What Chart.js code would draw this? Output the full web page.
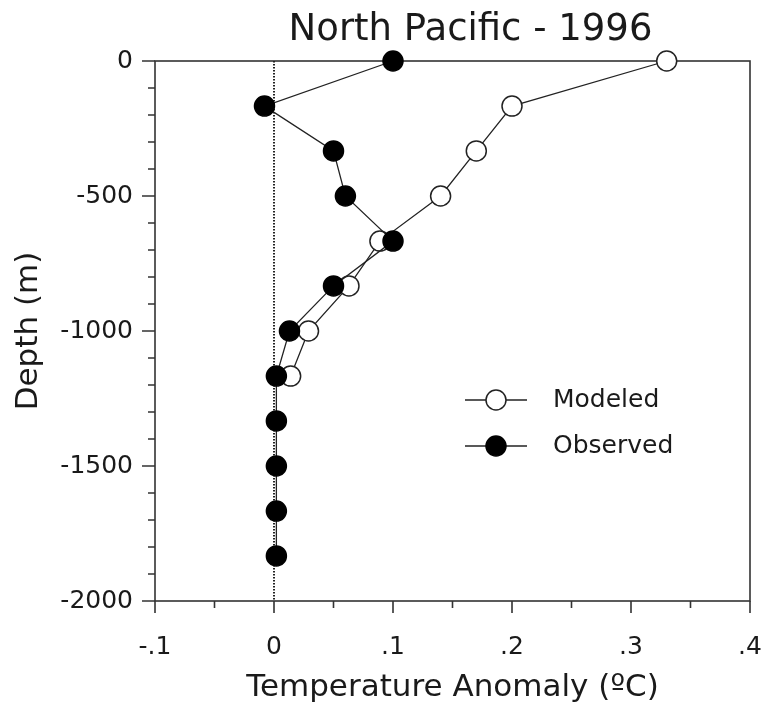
<!DOCTYPE html>
<html>
<head>
<meta charset="utf-8">
<script src="https://cdn.jsdelivr.net/npm/chart.js@4.4.1/dist/chart.umd.min.js"></script>
<style>
  html, body { margin: 0; padding: 0; background: #fff; }
  #wrap { width: 763px; height: 713px; position: relative; }
</style>
</head>
<body>
<div id="wrap"><canvas id="myChart"></canvas></div>
<script>
const chartTitle = 'North Pacific - 1996';
const seriesNames = ['Modeled', 'Observed'];
const depths = [0, -167, -333, -500, -667, -833, -1000, -1167, -1333, -1500, -1667, -1833];
const modeled = [0.33, 0.2, 0.17, 0.14, 0.089, 0.063, 0.029, 0.014];
const observed = [0.1, -0.008, 0.05, 0.06, 0.1, 0.05, 0.013, 0.002, 0.002, 0.002, 0.002, 0.002];
const xTickValues = [-0.1, 0, 0.1, 0.2, 0.3, 0.4];
const xTickLabels = ['-.1', '0', '.1', '.2', '.3', '.4'];
const yTickValues = [0, -500, -1000, -1500, -2000];
const yTickLabels = ['0', '-500', '-1000', '-1500', '-2000'];

const FONT = '"DejaVu Sans", sans-serif';
const INK = '#1a1a1a';

const isMajorX = v => xTickValues.some(t => Math.abs(t - v) < 1e-6);

// box, tick marks and the dotted zero line
const frame = {
    id: 'frame',
    beforeDatasetsDraw(chart) {
        const { ctx, chartArea: a, scales: { x, y } } = chart;
        ctx.save();
        ctx.strokeStyle = '#333';
        ctx.lineWidth = 1.6;
        ctx.strokeRect(a.left, a.top, a.right - a.left, a.bottom - a.top);
        ctx.beginPath();
        y.ticks.forEach(t => {
            const py = y.getPixelForValue(t.value);
            const len = yTickValues.includes(t.value) ? 13 : 7;
            ctx.moveTo(a.left - len, py);
            ctx.lineTo(a.left, py);
        });
        x.ticks.forEach(t => {
            const px = x.getPixelForValue(t.value);
            const len = isMajorX(t.value) ? 12 : 7;
            ctx.moveTo(px, a.bottom);
            ctx.lineTo(px, a.bottom + len);
        });
        ctx.stroke();

        const zx = x.getPixelForValue(0);
        ctx.setLineDash([1.5, 1.5]);
        ctx.lineWidth = 2;
        ctx.strokeStyle = '#222';
        ctx.beginPath();
        ctx.moveTo(zx, a.top);
        ctx.lineTo(zx, a.bottom);
        ctx.stroke();
        ctx.restore();
    }
};

// legend inside the plot
const insideLegend = {
    id: 'insideLegend',
    afterDatasetsDraw(chart) {
        const { ctx } = chart;
        const lx = 465, ly = 400, gap = 46;
        ctx.save();
        seriesNames.forEach((name, i) => {
            const ds = chart.data.datasets.find(d => d.label === name);
            const yy = ly + i * gap;
            ctx.strokeStyle = ds.borderColor;
            ctx.lineWidth = ds.borderWidth;
            ctx.beginPath();
            ctx.moveTo(lx, yy);
            ctx.lineTo(lx + 62, yy);
            ctx.stroke();
            ctx.beginPath();
            ctx.arc(lx + 31, yy, ds.pointRadius, 0, Math.PI * 2);
            ctx.fillStyle = ds.pointBackgroundColor;
            ctx.fill();
            ctx.lineWidth = ds.pointBorderWidth;
            ctx.strokeStyle = ds.pointBorderColor;
            ctx.stroke();
            ctx.fillStyle = INK;
            ctx.font = '25px ' + FONT;
            ctx.textAlign = 'left';
            ctx.textBaseline = 'middle';
            ctx.fillText(name, lx + 88, yy);
        });
        ctx.restore();
    }
};

const topTitle = {
    id: 'topTitle',
    afterDraw(chart) {
        const { ctx, chartArea: a } = chart;
        ctx.save();
        ctx.fillStyle = INK;
        ctx.font = '37px ' + FONT;
        ctx.textAlign = 'center';
        ctx.textBaseline = 'alphabetic';
        ctx.fillText(chartTitle, (a.left + a.right) / 2 + 18, 40);
        ctx.restore();
    }
};

var ctx = document.getElementById('myChart');

var myChart = new Chart(ctx, { // eslint-disable-line
    type: 'scatter',
    data: {
        datasets: [
            {
                label: seriesNames[0],
                data: modeled.map((v, i) => ({ x: v, y: depths[i] })),
                showLine: true,
                borderColor: '#222',
                borderWidth: 1.3,
                pointRadius: 10,
                pointBackgroundColor: '#fff',
                pointBorderColor: '#222',
                pointBorderWidth: 1.5,
                order: 1,
                clip: false
            },
            {
                label: seriesNames[1],
                data: observed.map((v, i) => ({ x: v, y: depths[i] })),
                showLine: true,
                borderColor: '#222',
                borderWidth: 1.3,
                pointRadius: 10,
                pointBackgroundColor: '#000',
                pointBorderColor: '#000',
                pointBorderWidth: 1.5,
                order: 0,
                clip: false
            }
        ]
    },
    options: {
        responsive: true,
        maintainAspectRatio: false,
        animation: false,
        layout: { padding: { top: 61, right: 13, left: 0, bottom: 0 } },
        plugins: {
            legend: { display: false },
            tooltip: { enabled: false }
        },
        scales: {
            x: {
                type: 'linear',
                min: -0.1,
                max: 0.4,
                // tick marks are drawn by the frame plugin; tickLength only pushes the labels down
                grid: { display: false, drawTicks: true, tickLength: 31 },
                border: { display: false },
                ticks: {
                    stepSize: 0.05,
                    autoSkip: false,
                    maxRotation: 0,
                    padding: 0,
                    color: INK,
                    font: { family: FONT, size: 25 },
                    callback: v => {
                        const i = xTickValues.findIndex(t => Math.abs(t - v) < 1e-6);
                        return i < 0 ? '' : xTickLabels[i];
                    }
                },
                title: {
                    display: true,
                    text: 'Temperature Anomaly (ºC)',
                    color: INK,
                    font: { family: FONT, size: 31 },
                    padding: { top: 0, bottom: 6 }
                },
                afterFit: s => { s.height = 112; }
            },
            y: {
                type: 'linear',
                min: -2000,
                max: 0,
                grid: { display: false, drawTicks: false },
                border: { display: false },
                ticks: {
                    stepSize: 100,
                    autoSkip: false,
                    padding: 22,
                    color: INK,
                    font: { family: FONT, size: 25 },
                    callback: v => {
                        const i = yTickValues.indexOf(v);
                        return i < 0 ? '' : yTickLabels[i];
                    }
                },
                title: {
                    display: true,
                    text: 'Depth (m)',
                    color: INK,
                    font: { family: FONT, size: 31 },
                    padding: { top: 10, bottom: 0 }
                },
                afterFit: s => { s.width = 155; }
            }
        }
    },
    plugins: [frame, insideLegend, topTitle]
});
</script>
</body>
</html>
